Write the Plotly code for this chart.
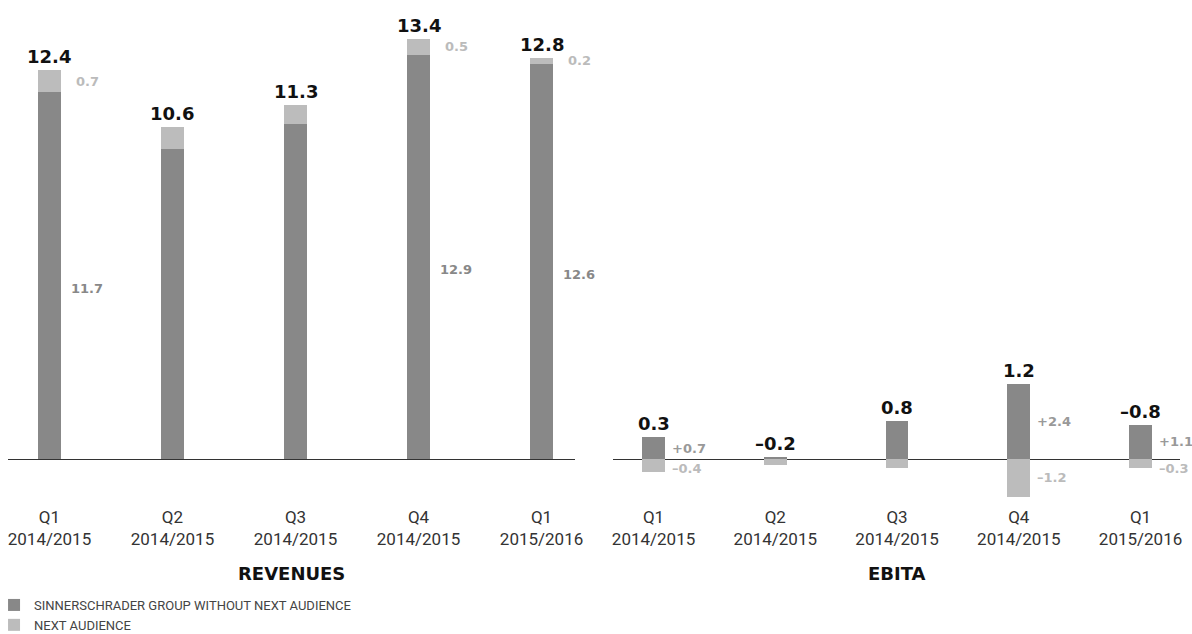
import plotly.graph_objects as go

# ---------------- data ----------------
quarters = ["Q1<br>2014/2015", "Q2<br>2014/2015", "Q3<br>2014/2015", "Q4<br>2014/2015", "Q1<br>2015/2016"]
series_names = ["SINNERSCHRADER GROUP WITHOUT NEXT AUDIENCE", "NEXT AUDIENCE"]

rev_core = [11.7, 9.9, 10.7, 12.9, 12.6]
rev_next = [0.7, 0.7, 0.6, 0.5, 0.2]
rev_total_labels = ["12.4", "10.6", "11.3", "13.4", "12.8"]
rev_core_labels = ["11.7", None, None, "12.9", "12.6"]
rev_next_labels = ["0.7", None, None, "0.5", "0.2"]

ebita_core = [0.7, 0.05, 1.2, 2.4, 1.1]
ebita_next = [-0.4, -0.2, -0.3, -1.2, -0.3]
ebita_total_labels = ["0.3", "\u20130.2", "0.8", "1.2", "\u20130.8"]
ebita_core_labels = ["+0.7", None, None, "+2.4", "+1.1"]
ebita_next_labels = ["\u20130.4", None, None, "\u20131.2", "\u20130.3"]

panel_titles = ["REVENUES", "EBITA"]

# ---------------- style ----------------
DARK = "#888888"
LIGHT = "#bcbcbc"
COND = "Roboto, Liberation Sans Narrow, sans-serif"
BOLD = "DejaVu Sans, sans-serif"
W, H = 1192, 634
BW = 0.188

xpos = list(range(len(quarters)))

fig = go.Figure()
fig.add_trace(go.Bar(x=xpos, y=rev_core, width=BW, marker_color=DARK, marker_line_width=0,
                     name=series_names[0], legendgroup="a", xaxis="x", yaxis="y"))
fig.add_trace(go.Bar(x=xpos, y=rev_next, width=BW, marker_color=LIGHT, marker_line_width=0,
                     name=series_names[1], legendgroup="b", xaxis="x", yaxis="y"))
fig.add_trace(go.Bar(x=xpos, y=ebita_core, width=BW, marker_color=DARK, marker_line_width=0,
                     name=series_names[0], legendgroup="a", showlegend=False, xaxis="x2", yaxis="y2"))
fig.add_trace(go.Bar(x=xpos, y=ebita_next, width=BW, marker_color=LIGHT, marker_line_width=0,
                     name=series_names[1], legendgroup="b", showlegend=False, xaxis="x2", yaxis="y2"))

ann = []
# revenue labels
for i in xpos:
    top = rev_core[i] + rev_next[i]
    ann.append(dict(x=i, y=top, xref="x", yref="y", text="<b>%s</b>" % rev_total_labels[i],
                    showarrow=False, yanchor="bottom", yshift=1,
                    font=dict(family=BOLD, size=18, color="#111111")))
    if rev_next_labels[i]:
        ann.append(dict(x=i + BW / 2, y=rev_core[i] + rev_next[i] / 2, xref="x", yref="y",
                        text="<b>%s</b>" % rev_next_labels[i], showarrow=False,
                        xanchor="left", xshift=13,
                        font=dict(family=BOLD, size=13, color="#bbbbbb")))
    if rev_core_labels[i]:
        ann.append(dict(x=i + BW / 2, y=rev_core[i] / 2, xref="x", yref="y",
                        text="<b>%s</b>" % rev_core_labels[i], showarrow=False,
                        xanchor="left", xshift=8, yshift=-13,
                        font=dict(family=BOLD, size=13, color="#888888")))
# ebita labels
for i in xpos:
    top = max(ebita_core[i], 0) + max(ebita_next[i], 0)
    ann.append(dict(x=i, y=top, xref="x2", yref="y2", text="<b>%s</b>" % ebita_total_labels[i],
                    showarrow=False, yanchor="bottom", yshift=1,
                    font=dict(family=BOLD, size=18, color="#111111")))
    if ebita_core_labels[i]:
        ann.append(dict(x=i + BW / 2, y=ebita_core[i] / 2, xref="x2", yref="y2",
                        text="<b>%s</b>" % ebita_core_labels[i], showarrow=False,
                        xanchor="left", xshift=5,
                        font=dict(family=BOLD, size=13, color="#999999")))
    if ebita_next_labels[i]:
        ann.append(dict(x=i + BW / 2, y=min(ebita_next[i] / 2, -0.3), xref="x2", yref="y2",
                        text="<b>%s</b>" % ebita_next_labels[i], showarrow=False,
                        xanchor="left", xshift=5,
                        font=dict(family=BOLD, size=13, color="#bbbbbb")))

for k, t in enumerate(panel_titles):
    ann.append(dict(x=0.5, y=1 - 573 / H, xref="x domain" if k == 0 else "x2 domain", yref="paper",
                    text="<b>%s</b>" % t, showarrow=False, yanchor="middle",
                    font=dict(family=BOLD, size=18, color="#111111")))

PX_PER_UNIT = 31.35
BASE = 459
BOTTOM = 505
ydom = [1 - BOTTOM / H, 1]
yrange = [-(BOTTOM - BASE) / PX_PER_UNIT, BASE / PX_PER_UNIT]

axis_common = dict(showgrid=False, showline=False, zeroline=False, ticks="", automargin=False,
                   tickfont=dict(family=COND, size=17, color="#333333"))
yaxis_common = dict(domain=ydom, range=yrange, showgrid=False, showticklabels=False, automargin=False,
                    zeroline=True, zerolinecolor="#333333", zerolinewidth=1, showline=False)

fig.update_layout(
    width=W, height=H, margin=dict(l=0, r=0, t=0, b=0, autoexpand=False),
    paper_bgcolor="white", plot_bgcolor="white",
    barmode="relative", bargap=0,
    xaxis=dict(domain=[8 / W, 575 / W], range=[-0.337, 4.272], tickvals=xpos, ticktext=quarters,
               anchor="y", **axis_common),
    xaxis2=dict(domain=[613 / W, 1180 / W], range=[-0.333, 4.324], tickvals=xpos, ticktext=quarters,
                anchor="y2", **axis_common),
    yaxis=dict(anchor="x", **yaxis_common),
    yaxis2=dict(anchor="x2", **yaxis_common),
    annotations=ann,
    showlegend=True,
    legend=dict(x=-0.005, y=1 - 590 / H, xanchor="left", yanchor="top", orientation="v",
                font=dict(family=COND, size=13, color="#444444"), bgcolor="rgba(0,0,0,0)",
                traceorder="normal", tracegroupgap=0),
)

fig.write_html("out.html")
